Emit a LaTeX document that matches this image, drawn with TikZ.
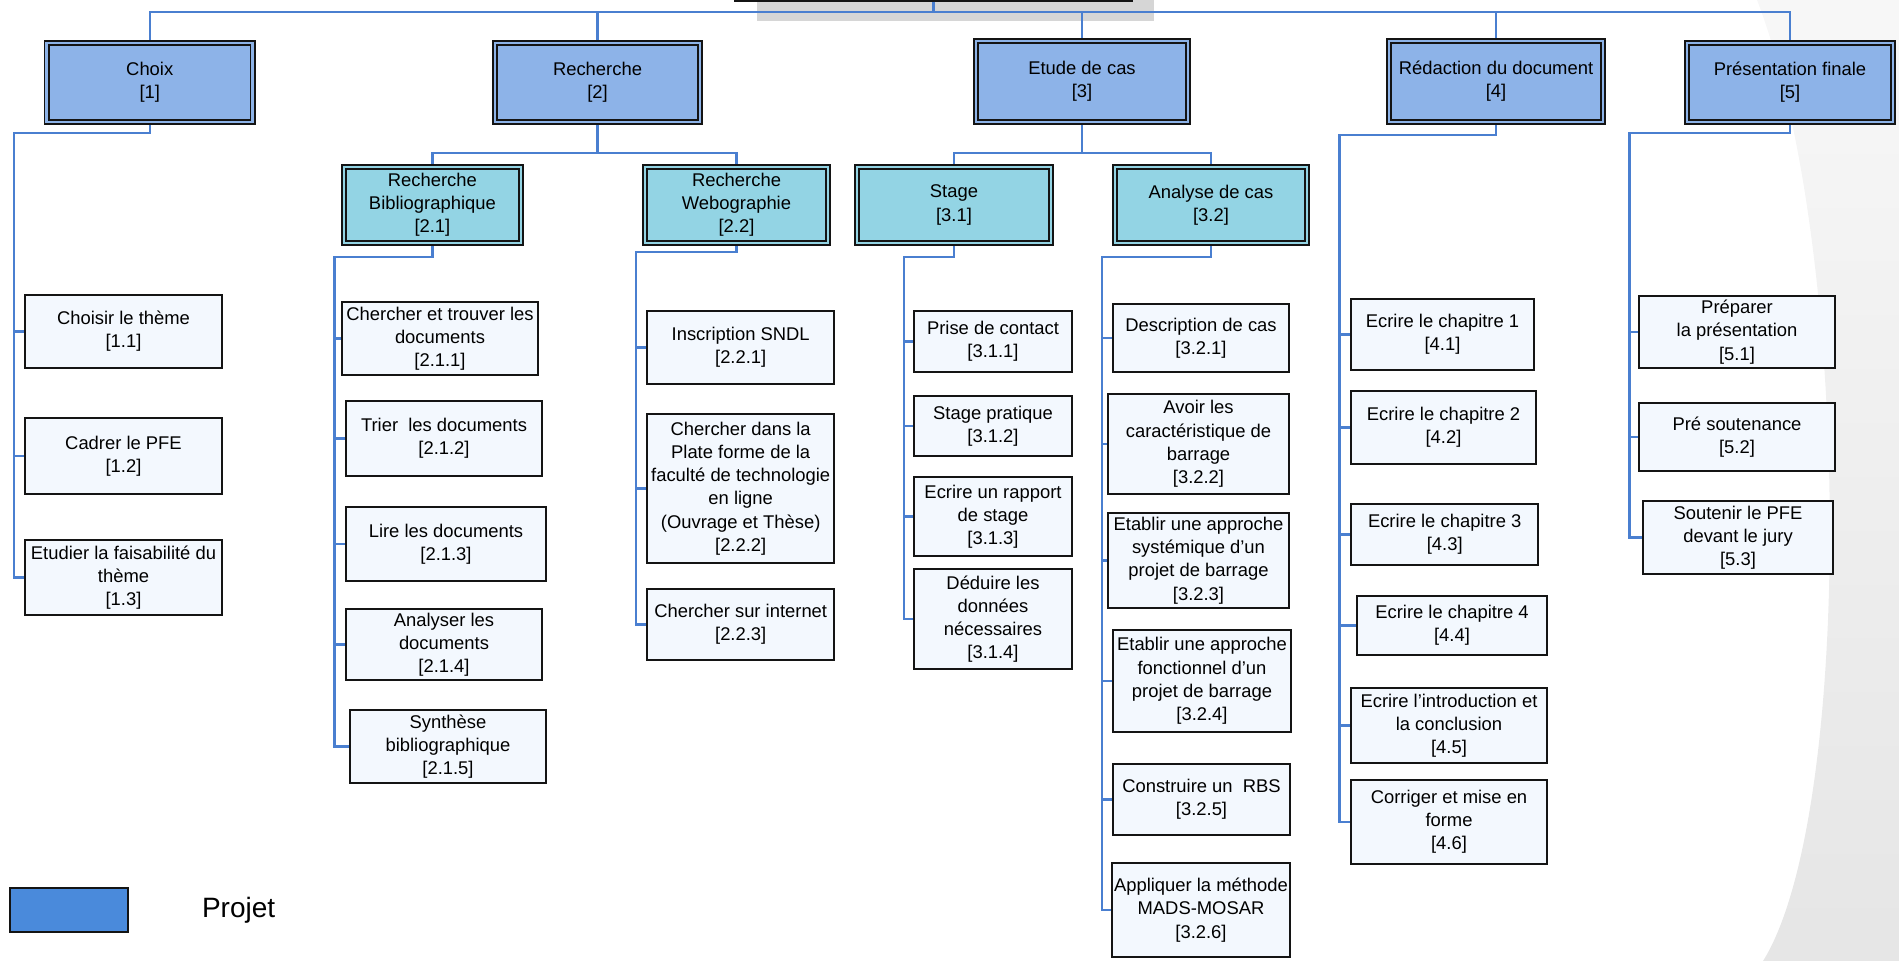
\documentclass[tikz,border=0pt]{standalone}
\usepackage{fontspec}
\setmainfont{Liberation Sans}
\usetikzlibrary{positioning,shadows}
\definecolor{wbsTop}{HTML}{8DB3E8}
\definecolor{wbsSub}{HTML}{93D4E4}
\definecolor{wbsLeaf}{HTML}{F3F8FE}
\definecolor{wbsLink}{HTML}{4A7FD0}
\definecolor{wbsLegend}{HTML}{4A8ADB}
\definecolor{wbsShade}{HTML}{D6D6D6}
\definecolor{wbsInk}{HTML}{141414}
\newcommand{\px}{0.5pt}
\newcommand{\BoxFont}{\fontsize{9.2}{11.6}\selectfont}
\newcommand{\LegendFont}{\fontsize{14}{16}\selectfont}
\newcommand{\Wbs}[1]{[#1]}
\tikzset{
  wbs link/.style={draw=wbsLink, line width=1.1pt},
  wbs size/.style 2 args={minimum width=#1*\px, minimum height=#2*\px},
  top card/.style={
    draw=wbsInk, line width=0.75pt, double=#1, double distance=1.4pt,
    fill=#1, outer sep=1.45pt, inner sep=1pt, align=center, font=\BoxFont
  },
  leaf card/.style={
    draw=wbsInk, line width=1pt, fill=wbsLeaf, inner sep=1pt,
    align=center, font=\BoxFont
  },
}

\begin{document}
\begin{tikzpicture}[x=\px,y=-\px]
  \useasboundingbox (0,0) rectangle (1899,961);
  \clip (0,0) rectangle (1899,961);

  % slide background on the right
  \shade[top color=black!3, bottom color=black!10]
    (1757,0) .. controls (1853,250) and (1853,817) .. (1763,961)
    -- (1899,961) -- (1899,0) -- cycle;

  % Root (cut by the page edge)
  \node[draw=wbsInk, line width=1pt, fill=white, wbs size={397}{82},
        drop shadow={shadow xshift=11pt, shadow yshift=-10pt, fill=wbsShade, opacity=1}]
        (root) at (933.5,-40) {};

  % Level 1
  \node[top card=wbsTop, wbs size={206}{79}] (choix) at (149.75,82.5) {Choix\\\Wbs{1}};
  \node[top card=wbsTop, wbs size={205}{79}] (rech)  at (597.5,82.5)  {Recherche\\\Wbs{2}};
  \node[top card=wbsTop, wbs size={212}{81}] (etude) at (1082,81.5)   {Etude de cas\\\Wbs{3}};
  \node[top card=wbsTop, wbs size={214}{81}] (redac) at (1496,81.5)   {Rédaction du document\\\Wbs{4}};
  \node[top card=wbsTop, wbs size={206}{79}] (pres)  at (1790,82.5)   {Présentation finale\\\Wbs{5}};

  \foreach \n in {choix,rech,etude,redac,pres}
    \draw[wbs link] (root.south) -- ++(0,10) -| (\n.north);

  % Level 2
  \node[top card=wbsSub, wbs size={177}{76}] (rb)  at (432.4,205) {Recherche\\Bibliographique\\\Wbs{2.1}};
  \node[top card=wbsSub, wbs size={183}{76}] (rw)  at (736.5,205) {Recherche\\Webographie\\\Wbs{2.2}};
  \node[top card=wbsSub, wbs size={194}{76}] (stg) at (954,205)   {Stage\\\Wbs{3.1}};
  \node[top card=wbsSub, wbs size={192}{76}] (ana) at (1211,205)  {Analyse de cas\\\Wbs{3.2}};

  \foreach \a/\b in {rech/rb,rech/rw,etude/stg,etude/ana}
    \draw[wbs link] (\a.south) -- ++(0,28) -| (\b.north);

  % Choix
  \node[leaf card, wbs size={197}{73}] (c11) at (123.5,331.5) {Choisir le thème\\\Wbs{1.1}};
  \node[leaf card, wbs size={197}{76}] (c12) at (123.5,456)   {Cadrer le PFE\\\Wbs{1.2}};
  \node[leaf card, wbs size={197}{75}] (c13) at (123.5,577.5) {Etudier la faisabilité du\\thème\\\Wbs{1.3}};

  % Recherche
  \node[leaf card, wbs size={196}{73}] (c211) at (440,338.5) {Chercher et trouver les\\documents\\\Wbs{2.1.1}};
  \node[leaf card, wbs size={196}{75}] (c212) at (444,438.5) {Trier\ \ les documents\\\Wbs{2.1.2}};
  \node[leaf card, wbs size={200}{74}] (c213) at (446,544)   {Lire les documents\\\Wbs{2.1.3}};
  \node[leaf card, wbs size={196}{71}] (c214) at (444,644.5) {Analyser les\\documents\\\Wbs{2.1.4}};
  \node[leaf card, wbs size={196}{73}] (c215) at (448,746.5) {Synthèse\\bibliographique\\\Wbs{2.1.5}};

  \node[leaf card, wbs size={187.5}{73}]  (c221) at (740.7,347.5) {Inscription SNDL\\\Wbs{2.2.1}};
  \node[leaf card, wbs size={187.5}{149}] (c222) at (740.7,488.5) {Chercher dans la\\Plate forme de la\\faculté de technologie\\en ligne\\(Ouvrage et Thèse)\\\Wbs{2.2.2}};
  \node[leaf card, wbs size={187.5}{71}]  (c223) at (740.7,624.5) {Chercher sur internet\\\Wbs{2.2.3}};

  % Etude de cas
  \node[leaf card, wbs size={158}{61}]  (c311) at (993,341.5) {Prise de contact\\\Wbs{3.1.1}};
  \node[leaf card, wbs size={158}{60}]  (c312) at (993,426)   {Stage pratique\\\Wbs{3.1.2}};
  \node[leaf card, wbs size={158}{79}]  (c313) at (993,516.5) {Ecrire un rapport\\de stage\\\Wbs{3.1.3}};
  \node[leaf card, wbs size={158}{100}] (c314) at (993,619)   {Déduire les\\données\\nécessaires\\\Wbs{3.1.4}};

  \node[leaf card, wbs size={176}{68}]  (c321) at (1201,338)    {Description de cas\\\Wbs{3.2.1}};
  \node[leaf card, wbs size={181}{100}] (c322) at (1198.5,444)  {Avoir les\\caractéristique de\\barrage\\\Wbs{3.2.2}};
  \node[leaf card, wbs size={181}{95}]  (c323) at (1198.5,560.5) {Etablir une approche\\systémique d’un\\projet de barrage\\\Wbs{3.2.3}};
  \node[leaf card, wbs size={178}{102}] (c324) at (1202,681)    {Etablir une approche\\fonctionnel d’un\\projet de barrage\\\Wbs{3.2.4}};
  \node[leaf card, wbs size={177}{71}]  (c325) at (1201.5,799.5) {Construire un\ \ RBS\\\Wbs{3.2.5}};
  \node[leaf card, wbs size={176}{94}]  (c326) at (1201,910)    {Appliquer la méthode\\MADS-MOSAR\\\Wbs{3.2.6}};

  % Redaction
  \node[leaf card, wbs size={183}{71}]   (c41) at (1442.5,334.5) {Ecrire le chapitre 1\\\Wbs{4.1}};
  \node[leaf card, wbs size={185}{73}]   (c42) at (1443.5,427.5) {Ecrire le chapitre 2\\\Wbs{4.2}};
  \node[leaf card, wbs size={187.5}{61}] (c43) at (1444.7,534.5) {Ecrire le chapitre 3\\\Wbs{4.3}};
  \node[leaf card, wbs size={189.5}{59}] (c44) at (1452,625.5)   {Ecrire le chapitre 4\\\Wbs{4.4}};
  \node[leaf card, wbs size={196}{75}]   (c45) at (1449,725.5)   {Ecrire l’introduction et\\la conclusion\\\Wbs{4.5}};
  \node[leaf card, wbs size={196}{84}]   (c46) at (1449,822)     {Corriger et mise en\\forme\\\Wbs{4.6}};

  % Presentation
  \node[leaf card, wbs size={196}{72}] (c51) at (1737,332)   {Préparer\\la présentation\\\Wbs{5.1}};
  \node[leaf card, wbs size={196}{68}] (c52) at (1737,437)   {Pré soutenance\\\Wbs{5.2}};
  \node[leaf card, wbs size={190}{73}] (c53) at (1738,537.5) {Soutenir le PFE\\devant le jury\\\Wbs{5.3}};

  % Spines
  \coordinate (s1)  at (14,133);
  \coordinate (s21) at (334.5,257);
  \coordinate (s22) at (636,252);
  \coordinate (s31) at (904,257);
  \coordinate (s32) at (1102,257);
  \coordinate (s4)  at (1339.5,135);
  \coordinate (s5)  at (1629.5,133);

  \foreach \p/\s/\last in {choix/s1/c13,rb/s21/c215,rw/s22/c223,stg/s31/c314,
                           ana/s32/c326,redac/s4/c46,pres/s5/c53}
    \draw[wbs link] (\p.south) |- (\s) |- (\last.west);

  \foreach \s/\n in {s1/c11,s1/c12,s21/c211,s21/c212,s21/c213,s21/c214,
                     s22/c221,s22/c222,s31/c311,s31/c312,s31/c313,
                     s32/c321,s32/c322,s32/c323,s32/c324,s32/c325,
                     s4/c41,s4/c42,s4/c43,s4/c44,s4/c45,s5/c51,s5/c52}
    \draw[wbs link] (\s |- \n.west) -- (\n.west);

  % Legend
  \node[draw=wbsInk, line width=1pt, fill=wbsLegend, wbs size={118}{44}] (leg) at (69,910) {};
  \node[font=\LegendFont, right=33pt of leg] (legtxt) {Projet};
\end{tikzpicture}
\end{document}
